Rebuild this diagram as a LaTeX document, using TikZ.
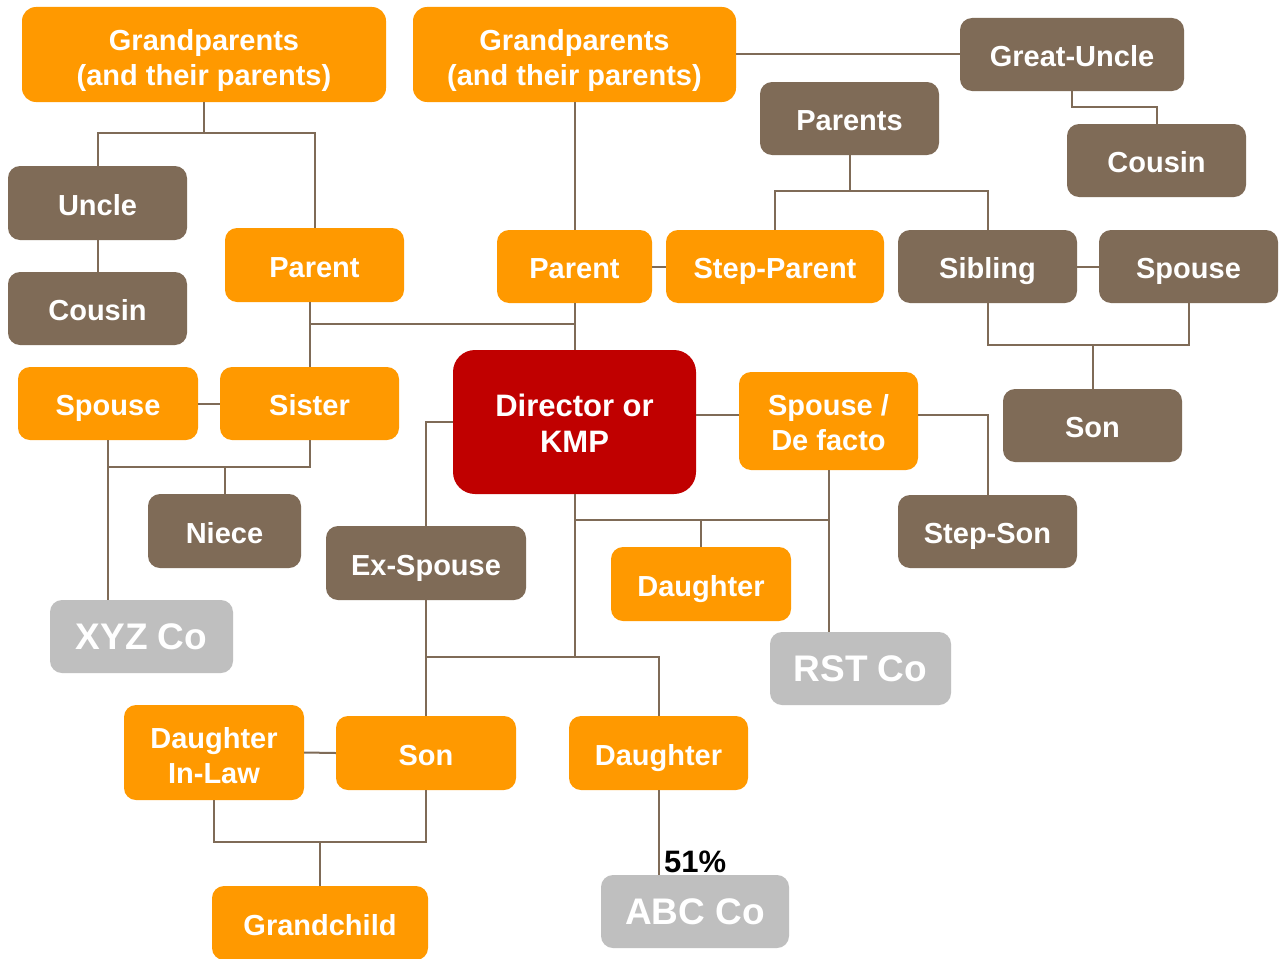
\documentclass[tikz,border=0pt]{standalone}
\usepackage{fontspec}
\setmainfont{Liberation Sans}
\definecolor{orng}{HTML}{FF9900}
\definecolor{brwn}{HTML}{7F6B57}
\definecolor{kmpred}{HTML}{C00000}
\definecolor{gry}{HTML}{BFBFBF}
\definecolor{lnk}{HTML}{7F6B57}
\newcommand{\lift}[1]{\rule{0pt}{#1}}
\begin{document}
\begin{tikzpicture}[x=1pt,y=-1pt,
  box/.style={rectangle, rounded corners=12pt, text=white, align=center, inner sep=0pt,
    font=\fontsize{29}{35}\selectfont\bfseries, text height=27pt, text depth=3pt},
  twoline/.style={text height=, text depth=},
  sz/.style 2 args={minimum width=#1, minimum height=#2},
  obox/.style={box, fill=orng},
  bbox/.style={box, fill=brwn},
  gbox/.style={box, fill=gry, font=\fontsize{37}{44}\selectfont\bfseries, text height=30pt, text depth=3.4pt},
  rbox/.style={box, twoline, fill=kmpred, rounded corners=22pt, font=\fontsize{31}{36}\selectfont\bfseries},
  link/.style={draw=lnk, line width=2pt},
  pctlabel/.style={inner sep=0pt, text=black, font=\fontsize{31}{36}\selectfont\bfseries}]
\useasboundingbox (0,0) rectangle (1287,958);
\fill[white] (0,0) rectangle (1287,958);

% nodes
\node[obox, twoline, sz={364pt}{95pt}, rounded corners=14pt] (gpl) at (204,54.5) {\lift{33pt}Grandparents\\(and their parents)};
\node[obox, twoline, sz={323pt}{95pt}, rounded corners=14pt] (gpr) at (574.5,54.5) {\lift{33pt}Grandparents\\(and their parents)};
\node[bbox, sz={224pt}{73pt}] (guncle) at (1072,54.5) {Great-Uncle};
\node[bbox, sz={179pt}{73pt}] (parents) at (849.5,118.5) {Parents};
\node[bbox, sz={179pt}{73pt}] (cousinr) at (1156.5,160.5) {Cousin};
\node[bbox, sz={179pt}{74pt}] (uncle) at (97.5,203) {Uncle};
\node[bbox, sz={179pt}{73pt}] (cousinl) at (97.5,308.5) {Cousin};
\node[obox, sz={179pt}{74pt}] (parentl) at (314.5,265) {Parent};
\node[obox, sz={155pt}{73pt}] (parentc) at (574.5,266.5) {Parent};
\node[obox, sz={218pt}{73pt}] (stepparent) at (775,266.5) {Step-Parent};
\node[bbox, sz={179pt}{73pt}] (sibling) at (987.5,266.5) {Sibling};
\node[bbox, sz={179pt}{73pt}] (spouser) at (1188.5,266.5) {Spouse};
\node[obox, sz={180pt}{73pt}] (spousel) at (108,403.5) {Spouse};
\node[obox, sz={179pt}{73pt}] (sister) at (309.5,403.5) {Sister};
\node[rbox, sz={243pt}{144pt}] (director) at (574.5,422) {\lift{24pt}Director or\\KMP};
\node[obox, twoline, sz={179pt}{98pt}] (spousedf) at (828.5,421) {\lift{24pt}Spouse /\\De facto};
\node[bbox, sz={179pt}{73pt}] (sonr) at (1092.5,425.5) {Son};
\node[bbox, sz={153pt}{74pt}] (niece) at (224.5,531) {Niece};
\node[bbox, sz={200pt}{74pt}] (exspouse) at (426,563) {Ex-Spouse};
\node[obox, sz={180pt}{74pt}] (daughterm) at (701,584) {Daughter};
\node[bbox, sz={179pt}{73pt}] (stepson) at (987.5,531.5) {Step-Son};
\node[gbox, sz={183pt}{73pt}] (xyz) at (141.5,636.5) {XYZ Co};
\node[gbox, sz={181pt}{73pt}] (rst) at (860.5,668.5) {RST Co};
\node[obox, twoline, sz={180pt}{95pt}] (dil) at (214,752.5) {\lift{27pt}Daughter\\In-Law};
\node[obox, sz={180pt}{74pt}] (sonb) at (426,753) {Son};
\node[obox, sz={179pt}{74pt}] (daughterb) at (658.5,753) {Daughter};
\node[obox, sz={216pt}{74pt}] (grandchild) at (320,923) {Grandchild};
\node[gbox, sz={188pt}{73pt}] (abc) at (695,911.5) {ABC Co};
\node[pctlabel, anchor=west] (pct) at (664,862) {51\%};

% junctions
\coordinate (j1) at (204,133);
\coordinate (j3) at (849.5,191);
\coordinate (j4) at (1092.5,345);
\coordinate (j5) at (309.5,324);
\coordinate (j6) at (224.5,467);
\coordinate (j7) at (701,520);
\coordinate (j9) at (574.5,657);
\coordinate (j8) at (320,842);

% connectors
\draw[link] (gpl.south) -- (j1);
\draw[link] (uncle.north) |- (j1) -| (parentl.north);
\draw[link] (uncle.south) -- (cousinl.north);
\draw[link] (gpr.south) -- (parentc.north);
\draw[link] (gpr.east) -- (guncle.west);
\draw[link] (guncle.south) -- ++(0,16) -| (cousinr.north);
\draw[link] (parents.south) -- (j3);
\draw[link] (stepparent.north) |- (j3) -| (sibling.north);
\draw[link] (parentc.east) -- (stepparent.west);
\draw[link] (sibling.east) -- (spouser.west);
\draw[link] (sibling.south) |- (j4) -| (spouser.south);
\draw[link] (j4) -- (sonr.north);
\draw[link] (sister.north |- parentl.south) -- (sister.north);
\draw[link] (j5) -- (parentc.south |- j5);
\draw[link] (parentc.south) -- (director.north);
\draw[link] (spousel.east) -- (sister.west);
\draw[link] (spousel.south) -- (spousel.south |- xyz.north);
\draw[link] (sister.south) |- (spousel.south |- j6);
\draw[link] (j6) -- (niece.north);
\draw[link] (director.west) -| (exspouse.north);
\draw[link] (director.east |- 0,414.5) -- (spousedf.west |- 0,414.5);
\draw[link] (spousedf.east |- 0,414.5) -| (stepson.north);
\draw[link] (spousedf.south) -- (spousedf.south |- rst.north);
\draw[link] (director.south |- j7) -- (spousedf.south |- j7);
\draw[link] (j7) -- (daughterm.north);
\draw[link] (director.south) -- (j9);
\draw[link] (exspouse.south) -- (sonb.north);
\draw[link] (sonb.north |- j9) -| (daughterb.north);
\draw[link] (dil.east) -- (sonb.west);
\draw[link] (dil.south) |- (j8) -| (sonb.south);
\draw[link] (j8) -- (grandchild.north);
\draw[link] (daughterb.south) -- (daughterb.south |- abc.north);
\end{tikzpicture}
\end{document}
